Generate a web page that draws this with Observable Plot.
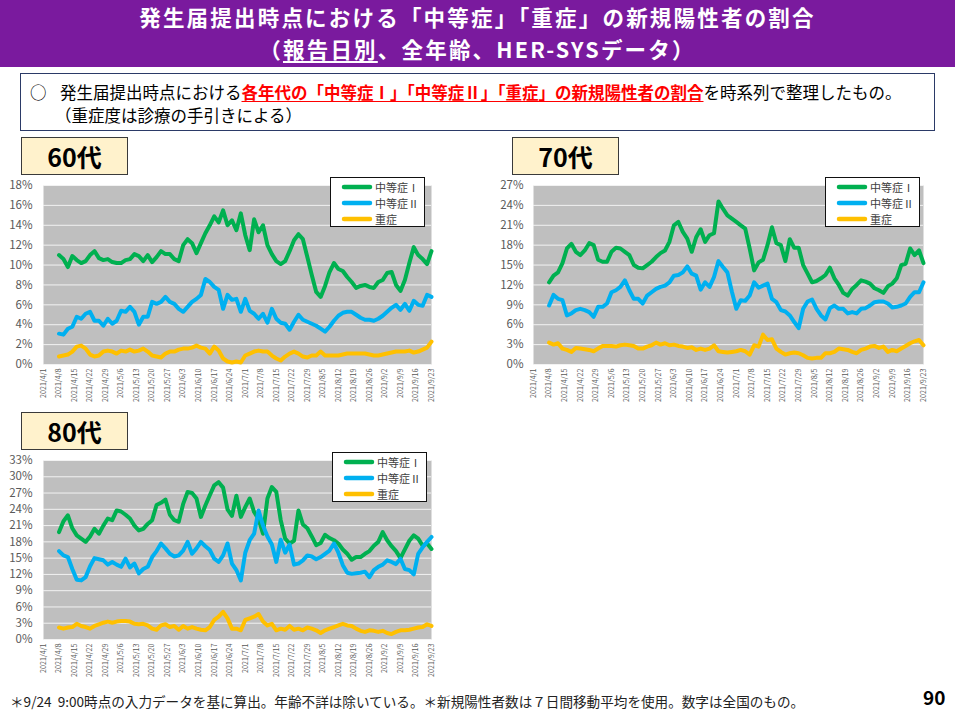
<!DOCTYPE html>
<html lang="ja">
<head>
<meta charset="utf-8">
<script src="https://cdn.jsdelivr.net/npm/d3@7"></script>
<script src="https://cdn.jsdelivr.net/npm/@observablehq/plot@0.6"></script>
<style>
  html, body { margin: 0; padding: 0; background: #fff; }
  #page { position: relative; width: 955px; height: 715px; overflow: hidden;
          font-family: "Noto Sans CJK JP", "Noto Sans", sans-serif; color: #000; }
  .abs { position: absolute; white-space: nowrap; }
  #header { left: 0; top: 0; width: 955px; height: 67px; background: #7a1a9e; }
  .title { left: 0; width: 955px; text-align: center; color: #fff; font-weight: 700;
           font-size: 21.5px; line-height: 26px; letter-spacing: 2.2px; }
  #note { left: 20px; top: 73px; width: 913px; height: 56px; border: 1.5px solid #2b3a67; background: #fff; }
  .noteline { font-size: 16.5px; line-height: 20px; }
  .red { color: #ff0000; font-weight: 700; text-decoration: underline; text-underline-offset: 2px; }
  .tag { width: 105px; height: 36px; background: #fff2cc; border: 1.5px solid #3a3a3a;
         font-weight: 700; font-size: 25px; line-height: 36px; text-align: center; }
  .chart { position: absolute; }
  .legend { position: absolute; width: 93px; height: 48px; background: #fff; border: 1.5px solid #111; z-index: 2; }
  .legend .row { position: absolute; left: 0; height: 14px; display: flex; align-items: center; }
  .legend span { display: block; font-size: 11px; color: #404040; line-height: 14px; height: 14px; margin-left: 2px; }
  #foot { left: 10px; top: 691px; font-size: 13.6px; line-height: 20px; color: #222; }
  #pageno { left: 923px; top: 685px; font-size: 19px; font-weight: 700; line-height: 24px; }
</style>
</head>
<body>
<div id="page">
  <div id="header" class="abs"></div>
  <div class="abs title" style="top:4px">発生届提出時点における「中等症」「重症」の新規陽性者の割合</div>
  <div class="abs title" style="top:35.5px">（<span style="text-decoration:underline;text-underline-offset:3px">報告日別</span>、全年齢、HER-SYSデータ）</div>

  <div id="note" class="abs"></div>
  <div class="abs noteline" style="left:30px;top:82px">○</div>
  <div class="abs noteline" style="left:60px;top:82px">発生届提出時点における<span class="red">各年代の「中等症Ⅰ」「中等症Ⅱ」「重症」の新規陽性者の割合</span>を時系列で整理したもの。</div>
  <div class="abs noteline" style="left:55px;top:105px">（重症度は診療の手引きによる）</div>

  <div class="abs tag" style="left:21px;top:137px">60代</div>
  <div class="abs tag" style="left:512px;top:137px">70代</div>
  <div class="abs tag" style="left:21px;top:412px">80代</div>

  <div id="c60" class="chart" style="left:0px;top:175px"></div>
  <div id="c70" class="chart" style="left:480px;top:175px"></div>
  <div id="c80" class="chart" style="left:0px;top:450px"></div>

  <div class="abs" id="foot">＊9/24&nbsp; 9:00時点の入力データを基に算出。年齢不詳は除いている。＊新規陽性者数は７日間移動平均を使用。数字は全国のもの。</div>
  <div class="abs" id="pageno">90</div>
</div>

<script>
// Series (7-day moving average share of new cases, %), every other day 2021/4/8 – 2021/9/23
const seriesNames = ["中等症Ⅰ", "中等症Ⅱ", "重症"];
const seriesColors = ["#00b050", "#00b0f0", "#ffc000"];

const xTickDates = ["2021-04-01","2021-04-08","2021-04-15","2021-04-22","2021-04-29","2021-05-06",
  "2021-05-13","2021-05-20","2021-05-27","2021-06-03","2021-06-10","2021-06-17","2021-06-24",
  "2021-07-01","2021-07-08","2021-07-15","2021-07-22","2021-07-29","2021-08-05","2021-08-12",
  "2021-08-19","2021-08-26","2021-09-02","2021-09-09","2021-09-16","2021-09-23"];

const yTicks60 = [0, 2, 4, 6, 8, 10, 12, 14, 16, 18];
const yTicks70 = [0, 3, 6, 9, 12, 15, 18, 21, 24, 27];
const yTicks80 = [0, 3, 6, 9, 12, 15, 18, 21, 24, 27, 30, 33];

// 60代
const m1_60 = [
  11.0, 10.6, 9.8, 10.9, 10.5, 10.2, 10.4, 11.0, 11.4, 10.7, 10.5, 10.6,
  10.3, 10.2, 10.2, 10.5, 10.6, 11.1, 10.9, 10.4, 11.0, 10.3, 10.8, 11.4, 11.1, 11.1, 10.6,
  10.4, 12.0, 12.6, 12.2, 11.2, 12.2, 13.2, 14.0, 14.9, 14.3, 15.5, 14.0, 14.5, 13.5, 15.2,
  13.0, 11.5, 14.6, 13.3, 14.0, 12.0, 11.1, 10.4, 10.1, 10.4, 11.4, 12.5, 13.1, 12.6, 10.8, 9.0,
  7.3, 6.8, 7.9, 9.3, 10.2, 9.6, 9.4, 8.8, 8.3, 7.7, 7.9, 8.0, 7.8, 7.7, 8.3,
  8.5, 9.2, 9.3, 8.0, 7.4, 8.5, 10.2, 11.8, 11.0, 10.6, 10.1, 11.4
];
const m2_60 = [
  3.1, 3.0, 3.6, 3.8, 4.8, 4.6, 5.1, 5.3, 4.4, 4.4, 3.9, 4.6,
  4.1, 4.4, 5.4, 5.3, 5.8, 5.3, 4.0, 4.8, 4.8, 6.3, 6.1, 6.3, 6.8, 6.3, 6.1,
  5.6, 5.3, 5.8, 6.3, 6.6, 7.0, 8.6, 8.3, 7.8, 7.5, 5.6, 7.0, 6.5, 6.6, 5.3,
  6.6, 5.4, 5.1, 4.6, 5.1, 4.2, 5.6, 4.6, 4.2, 4.1, 3.5, 4.3, 5.0, 4.5, 4.3, 4.1,
  3.9, 3.6, 3.3, 3.8, 4.4, 4.9, 5.2, 5.3, 5.3, 5.0, 4.7, 4.5, 4.5, 4.4, 4.6,
  4.9, 5.3, 5.7, 6.0, 5.5, 6.1, 5.4, 6.4, 6.0, 5.9, 7.0, 6.8
];
const sev_60 = [
  0.8, 0.9, 1.0, 1.3, 1.8, 1.9, 1.6, 1.0, 0.8, 0.9, 1.3, 1.4,
  1.3, 1.1, 1.4, 1.3, 1.5, 1.3, 1.4, 1.6, 1.3, 0.9, 0.8, 0.7, 1.1, 1.3, 1.3,
  1.5, 1.6, 1.6, 1.7, 1.9, 1.7, 1.6, 1.1, 1.8, 1.4, 0.6, 0.3, 0.2, 0.3, 0.2,
  0.9, 1.1, 1.3, 1.4, 1.3, 1.3, 0.9, 0.6, 0.4, 0.8, 1.1, 1.3, 1.1, 0.8, 0.7, 0.9,
  0.9, 1.3, 0.9, 0.9, 0.9, 0.9, 1.0, 1.1, 1.1, 1.1, 1.1, 1.1, 1.0, 0.9, 0.9,
  1.0, 1.1, 1.2, 1.3, 1.3, 1.3, 1.4, 1.2, 1.3, 1.5, 1.7, 2.3
];

// 70代
const m1_70 = [
  12.4, 13.4, 13.9, 15.3, 17.5, 18.2, 17.0, 16.5, 17.2, 18.3, 18.0, 15.8,
  15.5, 15.5, 17.0, 17.6, 17.5, 17.0, 16.5, 15.0, 14.6, 14.5, 15.0, 15.5, 16.2, 16.8, 17.2,
  18.5, 21.0, 21.5, 20.0, 19.0, 17.0, 19.2, 20.4, 18.5, 19.5, 19.8, 24.6, 23.5, 22.5, 22.0,
  21.5, 21.0, 20.5, 17.5, 14.2, 15.4, 15.8, 18.0, 20.7, 18.3, 18.0, 15.6, 18.9, 17.6, 17.6, 15.0,
  13.7, 12.4, 12.6, 13.0, 13.5, 14.6, 13.0, 12.0, 10.8, 10.4, 11.4, 12.0, 12.7, 12.5, 12.2,
  11.5, 11.2, 10.8, 11.8, 12.2, 13.0, 15.0, 15.2, 17.5, 16.5, 17.2, 15.3
];
const m2_70 = [
  8.9, 10.5, 9.9, 9.7, 7.4, 7.7, 8.2, 8.4, 8.2, 7.9, 7.2, 8.7,
  8.7, 9.2, 10.9, 11.2, 11.7, 12.7, 11.2, 9.9, 9.9, 9.2, 10.4, 10.9, 11.4, 11.7, 11.9,
  12.4, 13.4, 13.5, 13.9, 14.8, 13.7, 13.4, 11.3, 12.4, 11.7, 13.2, 15.6, 14.7, 13.9, 11.0,
  8.4, 9.7, 9.6, 10.4, 12.4, 11.6, 11.9, 12.2, 9.9, 9.4, 8.2, 8.0, 7.4, 6.4, 5.5, 8.4,
  9.5, 9.8, 8.4, 7.4, 6.8, 8.5, 8.9, 8.4, 8.4, 7.7, 7.9, 7.7, 8.4, 8.5, 8.9,
  9.4, 9.5, 9.5, 9.2, 8.6, 8.7, 8.9, 9.2, 10.2, 10.9, 10.9, 12.4
];
const sev_70 = [
  3.3, 3.0, 3.2, 2.4, 2.2, 1.9, 2.5, 2.4, 2.3, 2.2, 2.0, 2.4,
  2.8, 2.8, 2.8, 2.7, 2.9, 3.0, 2.9, 2.8, 2.4, 2.4, 2.7, 2.9, 3.3, 3.0, 3.2,
  2.9, 3.0, 2.8, 2.7, 2.5, 2.6, 2.2, 2.4, 2.2, 2.4, 2.9, 2.0, 1.9, 1.8, 1.9,
  2.0, 2.2, 2.0, 1.5, 2.9, 2.7, 4.5, 3.7, 3.8, 2.4, 1.9, 1.5, 1.7, 1.8, 1.7, 1.4,
  1.0, 0.9, 1.0, 1.0, 1.7, 1.7, 1.9, 2.4, 2.3, 2.2, 1.9, 1.7, 2.2, 2.4, 2.7,
  2.8, 2.5, 2.7, 1.9, 2.2, 2.0, 2.4, 2.8, 3.2, 3.5, 3.7, 2.9
];

// 80代
const m1_80 = [
  19.8, 21.8, 22.9, 20.5, 19.2, 18.6, 18.0, 19.0, 20.4, 19.5, 21.0, 22.3,
  22.0, 23.8, 23.6, 23.0, 22.3, 21.0, 20.1, 20.4, 21.3, 22.0, 24.8, 25.2, 25.8, 23.0, 22.0,
  21.7, 25.0, 27.2, 27.0, 26.0, 22.6, 24.7, 26.6, 28.4, 29.0, 28.0, 24.0, 22.8, 26.5, 22.6,
  24.4, 26.0, 23.5, 22.2, 19.5, 26.0, 28.1, 27.2, 22.0, 18.6, 17.7, 18.2, 23.8, 21.2, 20.5, 19.0,
  17.4, 17.8, 19.3, 18.7, 18.3, 17.7, 16.6, 15.8, 14.7, 15.2, 15.2, 15.8, 16.3, 17.3, 18.0,
  19.8, 18.3, 17.2, 16.3, 15.0, 16.6, 18.2, 19.2, 18.6, 17.3, 17.7, 16.7
];
const m2_80 = [
  16.3, 15.5, 15.2, 13.0, 11.0, 10.9, 11.5, 13.5, 15.0, 14.8, 14.6, 13.8,
  14.3, 13.8, 13.4, 14.9, 13.3, 14.0, 12.2, 13.0, 13.4, 15.2, 16.3, 17.7, 16.8, 15.8, 15.3,
  15.5, 16.4, 18.0, 15.8, 16.8, 18.0, 17.2, 16.5, 14.9, 14.3, 15.5, 17.7, 14.0, 12.8, 10.9,
  16.0, 18.3, 19.5, 23.8, 21.0, 19.0, 17.5, 14.3, 18.4, 16.0, 17.5, 13.8, 14.0, 14.6, 15.5, 15.3,
  14.8, 15.2, 15.8, 16.4, 17.7, 16.0, 13.7, 12.3, 12.1, 12.2, 12.3, 12.5, 11.5, 12.8, 13.4,
  13.8, 14.6, 14.3, 13.9, 14.9, 13.0, 12.8, 12.0, 15.8, 17.0, 18.0, 18.9
];
const sev_80 = [
  2.2, 2.0, 2.2, 2.3, 2.9, 2.5, 2.3, 2.0, 2.5, 2.8, 3.1, 3.3,
  3.1, 3.3, 3.4, 3.4, 3.3, 2.9, 2.8, 2.9, 2.6, 2.0, 1.8, 2.6, 2.8, 2.3, 2.5,
  1.8, 2.5, 2.0, 2.3, 2.0, 1.8, 1.7, 2.3, 3.6, 4.2, 5.1, 3.9, 2.0, 2.0, 1.7,
  3.6, 3.9, 4.2, 4.7, 3.3, 2.6, 2.9, 1.7, 2.0, 1.8, 2.5, 1.8, 2.0, 1.7, 2.2, 2.0,
  1.7, 1.2, 1.7, 2.0, 2.3, 2.6, 2.9, 2.6, 2.5, 2.0, 1.6, 1.4, 1.7, 1.6, 1.4,
  1.6, 1.2, 1.0, 1.4, 1.7, 1.7, 1.8, 2.0, 2.2, 2.3, 2.8, 2.5
];

// every other day from 4/8 to 9/23
const dates = d3.utcDay.range(new Date(Date.UTC(2021, 3, 8)), new Date(Date.UTC(2021, 8, 24)), 2);
const xDomain = [new Date(xTickDates[0]), new Date(xTickDates[xTickDates.length - 1])];
const xTicks = xTickDates.map(s => new Date(s));
const fmtDate = d3.utcFormat("%Y/%-m/%-d");
const font = `"Noto Sans CJK JP", "Noto Sans", sans-serif`;

function drawPanel(target, series, yTicks, dims) {
  const yMax = yTicks[yTicks.length - 1];
  const lineMarks = series.map((values, k) =>
    Plot.line(dates.map((d, i) => ({date: d, v: values[i]})), {
      x: "date", y: "v", stroke: seriesColors[k], strokeWidth: 4,
      strokeLinejoin: "round", strokeLinecap: "round"
    })
  );
  const chart = Plot.plot({
    width: dims.width, height: dims.height,
    marginLeft: dims.left, marginRight: dims.right, marginTop: dims.top, marginBottom: dims.bottom,
    style: {fontFamily: font, background: "transparent", overflow: "visible"},
    x: {type: "utc", domain: xDomain, label: null},
    y: {domain: [0, yMax], label: null},
    marks: [
      Plot.frame({fill: "#bfbfbf", stroke: "none"}),
      Plot.ruleY(yTicks, {stroke: "#f2f2f2", strokeWidth: 1}),
      Plot.axisY(yTicks, {tickSize: 0, tickPadding: dims.ypad, tickFormat: d => d + "%",
        fontSize: 11.5, color: "#595959", label: null}),
      Plot.axisX(xTicks, {tickSize: 0, tickPadding: 4, tickRotate: -90, tickFormat: fmtDate,
        fontSize: 7.2, color: "#595959", label: null}),
      ...lineMarks
    ]
  });
  document.getElementById(target).appendChild(chart);
}

function drawLegend(left, top) {
  const box = document.createElement("div");
  box.className = "legend";
  box.style.left = left + "px";
  box.style.top = top + "px";
  seriesNames.forEach((name, k) => {
    const row = document.createElement("div");
    row.className = "row";
    row.style.top = (2 + k * 16) + "px";
    row.innerHTML = `<svg width="42" height="14"><line x1="13" y1="7" x2="39" y2="7" stroke="${seriesColors[k]}" stroke-width="4.5" stroke-linecap="round"/></svg><span>${name}</span>`;
    box.appendChild(row);
  });
  document.getElementById("page").appendChild(box);
}

drawPanel("c60", [m1_60, m2_60, sev_60], yTicks60, {width: 480, height: 235, left: 43, right: 49, top: 10, bottom: 46, ypad: 11});
drawPanel("c70", [m1_70, m2_70, sev_70], yTicks70, {width: 475, height: 235, left: 53, right: 32, top: 10, bottom: 46, ypad: 10});
drawPanel("c80", [m1_80, m2_80, sev_80], yTicks80, {width: 480, height: 235, left: 43, right: 49, top: 10, bottom: 46, ypad: 11});

drawLegend(330, 177);
drawLegend(825, 177);
drawLegend(332, 452);
</script>
</body>
</html>
